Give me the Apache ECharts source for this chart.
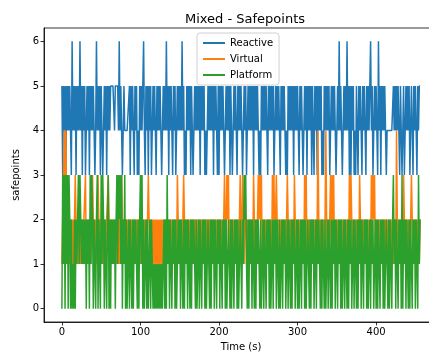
<!DOCTYPE html>
<html><head><meta charset="utf-8">
<script src="https://cdn.jsdelivr.net/npm/echarts@6/dist/echarts.min.js"></script>
<style>html,body{margin:0;padding:0;background:#fff}#c{width:429px;height:356px}</style>
</head><body><div id="c"></div>
<script>
const xTicks = [0, 100, 200, 300, 400];
const yTicks = [0, 1, 2, 3, 4, 5, 6];
const seriesNames = ['Reactive', 'Virtual', 'Platform'];

const reactive = [
5,3,5,4,5,3,5,4,5,4,5,4,3,6,4,5,4,5,3,5,
4,5,4,6,4,5,3,5,4,5,3,4,5,4,5,3,5,4,5,4,
5,4,3,4,6,4,5,4,5,3,5,4,3,4,5,4,5,3,5,4,
5,4,5,5,5,5,5,4,5,5,5,5,4,6,4,5,4,3,4,5,
4,4,4,4,4,4,5,3,5,4,5,4,3,5,4,5,3,4,3,5,
4,5,4,5,6,4,3,5,4,5,3,5,4,5,3,4,5,4,5,4,
3,5,4,5,4,5,4,3,4,5,4,5,4,6,4,5,3,5,4,5,
4,3,5,4,5,3,4,5,4,5,4,5,4,6,4,5,3,4,3,5,
4,5,4,5,3,5,4,3,4,5,4,5,4,5,4,5,3,5,4,5,
4,5,3,4,3,4,5,4,5,4,5,4,5,3,5,4,5,4,3,5,
3,5,4,5,4,5,4,3,4,5,4,5,4,5,3,5,4,3,4,5,
4,5,4,3,5,4,5,4,5,4,3,4,5,4,5,3,4,5,4,5,
4,5,4,5,3,5,4,5,4,5,4,3,4,3,5,4,5,4,5,4,
5,4,3,5,4,5,4,5,4,5,3,4,5,4,5,4,5,4,3,5,
4,5,4,5,4,3,4,3,5,4,5,4,5,4,5,3,5,4,5,4,
5,4,3,5,4,5,4,3,4,5,4,5,3,5,4,5,4,5,3,5,
4,3,5,4,5,3,5,4,5,4,5,3,4,3,5,4,5,4,5,4,
5,3,4,5,4,5,4,5,4,3,4,5,4,6,4,5,4,3,4,5,
4,5,4,6,4,5,3,5,3,5,4,5,3,4,3,5,4,3,5,4,
5,4,3,5,4,5,4,3,5,4,5,4,5,6,4,5,3,4,5,4,
5,4,3,6,4,5,3,5,4,5,4,5,4,3,4,4,4,4,4,4,
4,4,5,4,5,4,5,4,5,4,3,5,4,3,4,5,3,4,5,4,
5,4,5,3,4,5,4,3,5,4,5,4,3,5,4,5,5
];

const virtual = [
1,2,3,4,2,4,2,1,2,1,2,1,2,1,2,1,2,3,2,1,
2,1,2,1,2,1,2,1,2,2,3,1,2,1,2,1,2,1,2,3,
2,1,2,1,2,1,3,2,1,2,1,2,1,2,1,2,1,2,2,3,
2,1,2,1,2,1,2,1,2,1,2,1,2,1,2,1,3,2,1,2,
1,2,1,2,1,2,1,2,1,2,1,2,1,2,1,2,1,2,1,2,
1,2,1,2,1,2,1,2,1,2,3,2,1,2,1,2,1,2,1,2,
1,2,1,2,1,2,1,2,1,2,1,2,1,2,1,2,1,2,1,2,
1,2,1,2,1,2,1,3,2,1,2,1,2,1,2,3,2,1,2,1,
2,1,2,1,2,1,2,1,2,1,2,1,2,1,2,1,2,1,2,1,
2,1,2,1,2,1,2,1,2,1,2,1,2,1,2,1,2,1,2,1,
2,1,2,1,2,1,2,3,2,1,3,2,3,1,2,1,2,1,2,1,
2,1,2,1,2,1,2,3,2,1,3,2,1,3,2,1,2,1,2,1,
2,1,2,1,3,2,1,2,1,2,3,2,3,2,3,1,2,1,2,1,
2,1,2,1,2,1,2,1,3,2,3,1,2,3,2,1,2,1,2,1,
2,1,2,1,2,1,2,3,2,1,2,1,2,1,2,1,3,2,1,2,
1,2,1,2,1,2,1,2,1,3,2,3,1,2,1,2,1,2,1,2,
1,2,1,2,1,2,4,2,1,2,1,2,1,2,1,2,4,2,1,2,
1,2,3,1,3,2,3,1,2,1,2,1,2,1,2,1,2,1,2,1,
2,1,2,1,2,1,3,2,3,2,1,2,1,2,1,2,1,2,1,3,
2,1,2,1,2,1,2,1,2,1,2,1,2,1,3,2,3,2,3,1,
2,1,2,1,2,1,2,1,2,1,2,1,2,1,2,1,2,1,2,1,
2,1,2,1,2,1,4,2,1,2,1,2,1,2,1,3,2,1,2,1,
2,1,2,1,2,3,2,1,2,1,2,1,2,1,2,1,2
];

const platform = [
0,3,1,3,0,3,1,3,0,3,2,0,2,0,1,0,2,0,2,1,
2,3,1,3,2,1,2,1,2,1,2,0,2,1,2,0,3,1,3,2,
0,2,1,0,2,3,0,2,1,0,3,1,3,2,0,2,1,0,2,3,
0,2,0,2,1,2,1,2,0,2,3,1,3,2,3,1,3,0,2,1,
3,0,2,0,1,2,0,2,1,0,2,0,2,1,2,1,0,2,0,2,
3,1,3,0,2,0,1,2,0,2,0,1,2,0,2,1,0,1,0,1,
0,1,0,1,0,1,0,1,0,1,2,0,2,0,3,1,2,0,2,1,
0,2,1,2,0,2,0,1,2,1,2,0,2,1,0,2,0,2,1,2,
0,2,1,0,2,0,2,1,2,1,0,2,0,1,2,0,2,1,0,2,
1,2,0,2,0,1,2,1,0,2,0,2,1,2,0,2,1,0,2,1,
2,0,2,1,0,2,1,2,0,2,0,1,2,1,0,2,0,2,1,0,
2,1,2,0,2,0,1,2,1,0,2,1,3,2,3,1,0,2,0,2,
1,2,0,2,1,0,2,0,2,1,2,1,0,2,0,1,2,0,2,1,
0,2,1,2,0,2,0,1,2,0,2,1,2,0,2,1,0,2,0,1,
2,0,2,1,2,0,1,2,0,2,1,0,2,0,2,1,2,0,1,2,
0,2,0,1,2,0,2,1,2,0,2,0,1,2,1,0,2,0,2,1,
2,0,1,2,0,2,1,2,1,0,2,0,2,1,0,2,0,1,2,0,
2,1,0,2,0,2,1,2,0,2,1,0,2,1,2,0,2,0,1,2,
0,2,1,0,2,0,2,1,2,0,1,2,0,2,1,0,2,0,2,1,
2,0,2,1,0,2,1,2,0,2,0,1,2,0,2,1,2,0,1,2,
0,2,0,2,1,0,2,1,2,0,2,0,1,2,1,0,2,0,2,1,
0,2,3,1,2,0,2,1,0,2,1,2,0,3,0,2,1,2,0,2,
1,0,2,0,2,1,0,2,1,2,0,2,1,0,3,1,2
];

const colors = ['#1f77b4', '#ff7f0e', '#2ca02c'];
const FONT = 'DejaVu Sans';
const toPairs = arr => arr.map((v, i) => [i, v]);
const allData = [reactive, virtual, platform];

const chart = echarts.init(document.getElementById('c'), null, {renderer: 'canvas'});
chart.setOption({
  animation: false,
  backgroundColor: '#fff',
  title: {
    text: 'Mixed - Safepoints', left: 180, top: 8,
    textStyle: {fontFamily: FONT, fontSize: 13, fontWeight: 'normal', color: '#000'}
  },
  legend: {
    orient: 'vertical', left: 197, top: 33,
    data: seriesNames.map(n => ({name: n, icon: 'rect'})),
    itemWidth: 22, itemHeight: 2, itemGap: 4,
    backgroundColor: 'rgba(255,255,255,0.8)',
    borderColor: '#d0d0d0', borderWidth: 1, borderRadius: 3,
    padding: [4, 6, 4, 6],
    textStyle: {fontFamily: FONT, fontSize: 10, color: '#000', lineHeight: 12}
  },
  grid: {
    left: 44, top: 28, width: 394, height: 294,
    outerBoundsMode: 'none', containLabel: false,
    show: true, borderColor: '#000', borderWidth: 0.8, backgroundColor: 'transparent'
  },
  xAxis: {
    type: 'value', min: -22.8, max: 478.8,
    name: 'Time (s)', nameLocation: 'middle', nameGap: 20,
    nameTextStyle: {fontFamily: FONT, fontSize: 10, color: '#000'},
    axisLine: {show: true, onZero: false, lineStyle: {color: '#000', width: 0.8}},
    axisTick: {show: true, length: 3.5, lineStyle: {color: '#000', width: 0.8}, customValues: xTicks},
    axisLabel: {fontFamily: FONT, fontSize: 10, color: '#000', margin: 5, customValues: xTicks},
    splitLine: {show: false}
  },
  yAxis: {
    type: 'value', min: -0.3, max: 6.3,
    name: 'safepoints', nameLocation: 'middle', nameGap: 22, nameRotate: 90,
    nameTextStyle: {fontFamily: FONT, fontSize: 10, color: '#000'},
    axisLine: {show: true, onZero: false, lineStyle: {color: '#000', width: 0.8}},
    axisTick: {show: true, length: 3.5, lineStyle: {color: '#000', width: 0.8}, customValues: yTicks},
    axisLabel: {fontFamily: FONT, fontSize: 10, color: '#000', margin: 5, customValues: yTicks},
    splitLine: {show: false}
  },
  series: seriesNames.map((n, k) => ({
    name: n, type: 'line', data: toPairs(allData[k]),
    symbol: 'none', showSymbol: false,
    color: colors[k],
    itemStyle: {color: colors[k]},
    lineStyle: {color: colors[k], width: 1.5},
    clip: true
  }))
});
</script></body></html>
